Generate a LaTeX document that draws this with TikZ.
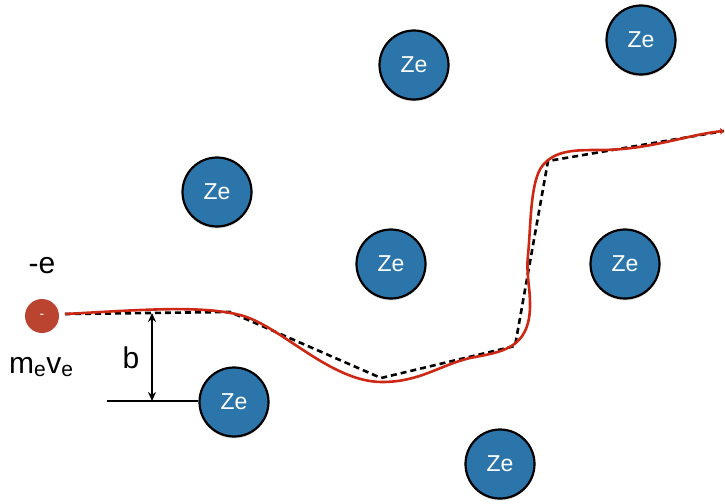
\documentclass[tikz,border=0pt]{standalone}
\usepackage{fontspec}
\setmainfont{Liberation Sans}
\usetikzlibrary{shadows,arrows.meta}
\definecolor{zeblue}{RGB}{44,117,170}
\definecolor{ered}{RGB}{186,68,48}
\definecolor{pathred}{RGB}{205,40,20}
\begin{document}
\begin{tikzpicture}[x=1pt,y=-1pt,
  nucleus/.style={circle,draw=black,line width=2.2pt,fill=zeblue,minimum size=69pt,inner sep=0pt,
    text=white,font=\fontsize{23}{23}\selectfont,drop shadow={shadow xshift=0pt,shadow yshift=-2pt,opacity=0.25}},
  electron/.style={circle,fill=ered,minimum size=34pt,inner sep=0pt,text=white,font=\fontsize{14}{14}\selectfont},
  lbl/.style={font=\fontsize{30}{30}\selectfont,inner sep=0pt},
  traj/.style={draw=pathred,line width=2.6pt},
  straight/.style={draw=black,line width=2.6pt,dash pattern=on 6pt off 4pt}]
\useasboundingbox (0,0) rectangle (725,503);
\node[nucleus] (z1) at (414,65) {Ze};
\node[nucleus] (z2) at (641,40) {Ze};
\node[nucleus] (z3) at (217,192) {Ze};
\node[nucleus] (z4) at (391,264) {Ze};
\node[nucleus] (z5) at (625,264) {Ze};
\node[nucleus] (z6) at (234,402) {Ze};
\node[nucleus] (z7) at (500,464) {Ze};
\node[electron] (el) at (42,316) {-};
\node[lbl] (ql) at (42,266) {-e};
\node[lbl,anchor=west] (ml) at (9,367) {m\textsubscript{e}v\textsubscript{e}};
\coordinate (s) at (65,314);
\coordinate (d1) at (230,312);
\coordinate (d2) at (381,378);
\coordinate (d3) at (515,346);
\coordinate (d4) at (548,161);
\coordinate (d5) at (724,131);
\draw[straight] (s) -- (d1) -- (d2) -- (d3) -- (d4) -- (d5);
\draw[traj,-{Stealth[length=4pt,width=7pt]}] (s) .. controls (140,310) and (200,305) .. (240,315)
  .. controls (280,325) and (330,382) .. (382,382)
  .. controls (420,382) and (440,365) .. (470,358)
  .. controls (500,352) and (530,350) .. (530,305)
  .. controls (530,285) and (526,275) .. (528,255)
  .. controls (531,225) and (530,180) .. (543,165)
  .. controls (556,150) and (575,150) .. (600,150)
  .. controls (650,150) and (690,134) .. (d5);
\coordinate (bt) at (152,313);
\coordinate (bb) at (152,401);
\coordinate (bl) at (107,401);
\draw[line width=1.8pt] (bl) -- (bl -| z6.west);
\draw[line width=1.8pt,{Stealth[length=9pt,width=8pt]}-{Stealth[length=9pt,width=8pt]}] (bt) -- (bb);
\node[lbl] (bl2) at (131,358) {b};
\end{tikzpicture}
\end{document}
